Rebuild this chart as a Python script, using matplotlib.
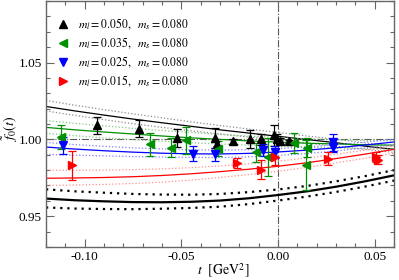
import matplotlib
matplotlib.use("Agg")
import matplotlib.pyplot as plt
from matplotlib.lines import Line2D
from matplotlib.ticker import MultipleLocator

plt.rcParams["font.family"] = "Liberation Serif"
plt.rcParams["mathtext.fontset"] = "stix"

# lattice data points (t, value, error) per ensemble
black_t = [-0.0936, -0.0721, -0.0524, -0.0326, -0.0313, -0.0232, -0.0146, -0.0089, -0.0021, -0.0003, 0.0009, 0.0057]
black_v = [1.0091, 1.0069, 1.0009, 1.0009, 0.9972, 0.9987, 1.0003, 1.0000, 1.0026, 1.0005, 0.9990, 0.9987]
black_e = [0.0055, 0.0054, 0.0060, 0.0065, 0.0015, 0.0015, 0.0060, 0.0035, 0.0070, 0.0030, 0.0020, 0.0012]

green_t = [-0.1125, -0.0660, -0.0555, -0.0478, -0.0310, -0.0115, -0.0050, 0.0085, 0.0150, 0.0146]
green_v = [1.0015, 0.9968, 0.9946, 0.9993, 0.9940, 0.9915, 0.9885, 0.9975, 0.9946, 0.9834]
green_e = [0.0080, 0.0075, 0.0060, 0.0087, 0.0050, 0.0060, 0.0125, 0.0065, 0.0060, 0.0165]

blue_t = [-0.1110, -0.0438, -0.0326, -0.0080, -0.0015, 0.0283, 0.0283]
blue_v = [0.9961, 0.9908, 0.9902, 0.9933, 0.9920, 0.9980, 0.9948]
blue_e = [0.0057, 0.0047, 0.0040, 0.0040, 0.0040, 0.0055, 0.0030]

red_t = [-0.1068, -0.0210, -0.0086, -0.0015, 0.0258, 0.0506, 0.0515]
red_v = [0.9831, 0.9846, 0.9803, 0.9885, 0.9875, 0.9885, 0.9868]
red_e = [0.0093, 0.0035, 0.0060, 0.0050, 0.0040, 0.0030, 0.0030]

fit_t = [-0.12, -0.105, -0.09, -0.075, -0.06, -0.045, -0.03, -0.015, 0.0, 0.015, 0.03, 0.045, 0.06]
black_fit = [1.0214, 1.0185, 1.0158, 1.0132, 1.0108, 1.0085, 1.0062, 1.0041, 1.0020, 0.9999, 0.9978, 0.9956, 0.9935]
black_hi = [1.0253, 1.0222, 1.0193, 1.0166, 1.0140, 1.0114, 1.0090, 1.0067, 1.0045, 1.0022, 1.0000, 0.9977, 0.9955]
black_lo = [1.0185, 1.0156, 1.0128, 1.0102, 1.0078, 1.0056, 1.0035, 1.0015, 0.9995, 0.9975, 0.9955, 0.9935, 0.9915]
green_fit = [1.0078, 1.0062, 1.0048, 1.0035, 1.0022, 1.0010, 1.0000, 0.9990, 0.9982, 0.9975, 0.9970, 0.9965, 0.9962]
green_hi = [1.0122, 1.0104, 1.0088, 1.0072, 1.0058, 1.0045, 1.0032, 1.0021, 1.0012, 1.0004, 0.9998, 0.9993, 0.9990]
green_lo = [1.0040, 1.0024, 1.0010, 0.9998, 0.9988, 0.9978, 0.9970, 0.9962, 0.9955, 0.9950, 0.9945, 0.9940, 0.9935]
blue_fit = [0.9950, 0.9937, 0.9926, 0.9917, 0.9910, 0.9906, 0.9905, 0.9909, 0.9918, 0.9930, 0.9945, 0.9963, 0.9983]
blue_hi = [0.9980, 0.9966, 0.9955, 0.9945, 0.9938, 0.9932, 0.9930, 0.9933, 0.9940, 0.9951, 0.9965, 0.9982, 1.0000]
blue_lo = [0.9902, 0.9897, 0.9893, 0.9888, 0.9885, 0.9883, 0.9882, 0.9886, 0.9895, 0.9908, 0.9925, 0.9944, 0.9965]
red_fit = [0.9747, 0.9749, 0.9752, 0.9757, 0.9765, 0.9776, 0.9790, 0.9806, 0.9825, 0.9848, 0.9875, 0.9904, 0.9935]
red_hi = [0.9800, 0.9799, 0.9800, 0.9803, 0.9808, 0.9816, 0.9827, 0.9841, 0.9858, 0.9879, 0.9903, 0.9930, 0.9960]
red_lo = [0.9700, 0.9703, 0.9707, 0.9713, 0.9722, 0.9735, 0.9752, 0.9771, 0.9792, 0.9818, 0.9847, 0.9877, 0.9910]
phys_fit = [0.9615, 0.9604, 0.9597, 0.9592, 0.9591, 0.9594, 0.9602, 0.9617, 0.9638, 0.9662, 0.9692, 0.9727, 0.9766]
phys_hi = [0.9675, 0.9662, 0.9653, 0.9645, 0.9641, 0.9640, 0.9645, 0.9657, 0.9674, 0.9697, 0.9727, 0.9761, 0.9800]
phys_lo = [0.9557, 0.9550, 0.9547, 0.9546, 0.9549, 0.9554, 0.9562, 0.9579, 0.9602, 0.9628, 0.9658, 0.9693, 0.9732]

labels = [r"$m_l = 0.050,\ \ m_s = 0.080$",
          r"$m_l = 0.035,\ \ m_s = 0.080$",
          r"$m_l = 0.025,\ \ m_s = 0.080$",
          r"$m_l = 0.015,\ \ m_s = 0.080$"]

fig = plt.figure(figsize=(3.99, 2.80), dpi=100)
ax = fig.add_axes([0.1153, 0.1179, 0.8722, 0.8785])

ax.axhline(1.0, color="0.35", ls="-.", lw=0.8, zorder=1)
ax.axvline(0.0, color="0.35", ls="-.", lw=0.8, zorder=1)

series = [
    ("black", "0.55", "^", black_t, black_v, black_e, black_fit, black_hi, black_lo),
    ("#009000", "#80c880", "<", green_t, green_v, green_e, green_fit, green_hi, green_lo),
    ("#0000ff", "#8080ff", "v", blue_t, blue_v, blue_e, blue_fit, blue_hi, blue_lo),
    ("#ff0000", "#ff9090", ">", red_t, red_v, red_e, red_fit, red_hi, red_lo),
]

handles = []
for col, light, mk, t, v, e, fit, hi, lo in series:
    ax.plot(fit_t, fit, color=col, lw=0.9, zorder=2)
    ax.plot(fit_t, hi, color=light, lw=0.9, ls=":", zorder=2)
    ax.plot(fit_t, lo, color=light, lw=0.9, ls=":", zorder=2)
    ax.errorbar(t, v, yerr=e, fmt=mk, color=col, ms=5.5, elinewidth=0.9,
                capsize=3, capthick=0.9, zorder=3)
    handles.append(Line2D([], [], color=col, marker=mk, ls="none", ms=5.5))

ax.plot(fit_t, phys_fit, color="black", lw=1.6, zorder=2)
ax.plot(fit_t, phys_hi, color="black", lw=1.6, ls=(0, (1, 2.2)), zorder=2)
ax.plot(fit_t, phys_lo, color="black", lw=1.6, ls=(0, (1, 2.2)), zorder=2)

ax.set_xlim(-0.12, 0.06)
ax.set_ylim(0.93, 1.09)
ax.xaxis.set_major_locator(MultipleLocator(0.05))
ax.xaxis.set_minor_locator(MultipleLocator(0.01))
ax.yaxis.set_major_locator(MultipleLocator(0.05))
ax.yaxis.set_minor_locator(MultipleLocator(0.01))
ax.xaxis.set_major_formatter(plt.FuncFormatter(lambda x, p: f"{x:.2f}"))
ax.yaxis.set_major_formatter(plt.FuncFormatter(lambda x, p: f"{x:.2f}"))
ax.tick_params(which="both", direction="in", top=True, right=True, color="0.4",
               labelsize=9.5, pad=3)
ax.tick_params(which="major", length=6, width=0.8)
ax.tick_params(which="minor", length=3, width=0.8)
for s in ax.spines.values():
    s.set_color("0.4")
    s.set_linewidth(1.0)

ax.set_xlabel(r"$t\ \ [\mathrm{GeV}^2]$", fontsize=10)
ax.set_ylabel(r"$\tilde{f}_0(t)$", fontsize=10)
ax.xaxis.set_label_coords(0.51, -0.062)
ax.yaxis.set_label_coords(-0.075, 0.48)

ax.legend(handles, labels, loc="upper left", bbox_to_anchor=(0.029, 0.937),
          frameon=False, fontsize=8.5, handlelength=1.2, handletextpad=0.68,
          labelspacing=0.27, borderpad=0, borderaxespad=0)

fig.savefig("out.png", dpi=100)
